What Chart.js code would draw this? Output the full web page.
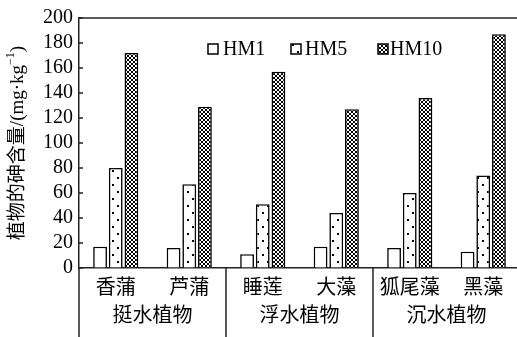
<!DOCTYPE html>
<html>
<head>
<meta charset="utf-8">
<script src="https://cdn.jsdelivr.net/npm/chart.js@4"></script>
<style>
  html, body { margin: 0; padding: 0; background: #fff; overflow: hidden; }
  #wrap { width: 517px; height: 337px; overflow: hidden; }
  canvas { display: block; }
</style>
</head>
<body>
<div id="wrap"><canvas id="c" width="522" height="337"></canvas></div>
<script>
// Plant species (x categories) and their life-form groups
const plants = ['香蒲', '芦蒲', '睡莲', '大藻', '狐尾藻', '黑藻'];
const groups = ['挺水植物', '浮水植物', '沉水植物'];
const groupSize = 2;

// Arsenic content in plants, mg/kg
const seriesNames = ['HM1', 'HM5', 'HM10'];
const hm1 = [17, 16, 11, 17, 16, 13];
const hm5 = [80, 67, 51, 44, 60, 74];
const hm10 = [172, 129, 157, 127, 136, 187];

const yTicks = [0, 20, 40, 60, 80, 100, 120, 140, 160, 180, 200];
const yTitle = '植物的砷含量/(mg·kg';
const yTitleSup = '−1';

const LATIN = '"Liberation Serif", "Times New Roman", serif';
const CJK = '"Liberation Serif", "Noto Sans CJK SC", serif';

// Fill patterns for the three series
function makePattern(kind) {
  const c = document.createElement('canvas');
  const g = c.getContext('2d');
  if (kind === 'dots') {
    c.width = 10; c.height = 14;
    g.fillStyle = '#fff'; g.fillRect(0, 0, 10, 14);
    g.fillStyle = '#000';
    g.fillRect(2, 2, 2, 2);
    g.fillRect(7, 9, 2, 2);
  } else if (kind === 'check') {
    // diagonal cross-hatch leaving small white diamonds
    c.width = 4; c.height = 4;
    g.fillStyle = '#fff'; g.fillRect(0, 0, 4, 4);
    g.fillStyle = '#000';
    [[0,0],[1,1],[2,2],[3,3],[3,0],[2,1],[1,2],[0,3]].forEach(p => g.fillRect(p[0], p[1], 1, 1));
  } else {
    c.width = 2; c.height = 2;
    g.fillStyle = '#fff'; g.fillRect(0, 0, 2, 2);
  }
  return g.createPattern(c, 'repeat');
}
const ctx0 = document.getElementById('c').getContext('2d');
const fills = [makePattern('plain'), makePattern('dots'), makePattern('check')];

const AXIS = '#222';

// Frame, inner ticks, group dividers and labels, y title, legend
const decor = {
  id: 'decor',
  afterDraw(chart) {
    const { ctx, chartArea: a, scales: { x, y } } = chart;
    const H = chart.height;
    ctx.save();
    ctx.strokeStyle = AXIS;
    ctx.lineWidth = 1.5;
    // top frame line
    ctx.beginPath();
    ctx.moveTo(a.left, a.top); ctx.lineTo(a.right + 2, a.top);
    ctx.stroke();
    // left axis continues down through the label area
    ctx.beginPath();
    ctx.moveTo(a.left, a.bottom); ctx.lineTo(a.left, H);
    ctx.stroke();
    // inner ticks
    yTicks.forEach(v => {
      const py = y.getPixelForValue(v);
      ctx.beginPath();
      ctx.moveTo(a.left, py); ctx.lineTo(a.left + 4, py);
      ctx.stroke();
    });
    // group dividers and group names
    ctx.fillStyle = '#000';
    ctx.font = '20px ' + CJK;
    ctx.textAlign = 'center';
    ctx.textBaseline = 'middle';
    groups.forEach((gname, i) => {
      const first = i * groupSize, last = first + groupSize - 1;
      const half = (x.getPixelForValue(1) - x.getPixelForValue(0)) / 2;
      const l = x.getPixelForValue(first) - half;
      const r = x.getPixelForValue(last) + half;
      if (i > 0) {
        ctx.beginPath();
        ctx.moveTo(l, a.bottom); ctx.lineTo(l, H);
        ctx.stroke();
      }
      ctx.fillText(gname, (l + r) / 2, 317);
    });
    // y axis title
    ctx.save();
    ctx.translate(18, (a.top + a.bottom) / 2);
    ctx.rotate(-Math.PI / 2);
    ctx.font = '19px ' + CJK;
    const w1 = ctx.measureText(yTitle).width;
    ctx.font = '12px ' + LATIN;
    const w2 = ctx.measureText(yTitleSup).width;
    ctx.font = '19px ' + CJK;
    const w3 = ctx.measureText(')').width;
    const total = w1 + w2 + w3;
    let cx = -total / 2;
    ctx.textAlign = 'left';
    ctx.fillText(yTitle, cx, 0);
    cx += w1;
    ctx.font = '12px ' + LATIN;
    ctx.fillText(yTitleSup, cx, -7);
    cx += w2;
    ctx.font = '19px ' + CJK;
    ctx.fillText(')', cx, 0);
    ctx.restore();
    // legend
    const items = [[208, 223], [291, 305], [378, 390]];
    ctx.font = '20px ' + LATIN;
    ctx.textAlign = 'left';
    ctx.textBaseline = 'middle';
    chart.data.datasets.forEach((ds, i) => {
      const [bx, tx] = items[i];
      ctx.fillStyle = ds.backgroundColor;
      ctx.fillRect(bx, 44, 10, 10);
      ctx.lineWidth = 1.5;
      ctx.strokeStyle = '#000';
      ctx.strokeRect(bx, 44, 10, 10);
      ctx.fillStyle = '#000';
      ctx.fillText(ds.label, tx, 50);
    });
    ctx.restore();
  }
};

new Chart(ctx0, {
  type: 'bar',
  data: {
    labels: plants,
    datasets: [hm1, hm5, hm10].map((d, i) => ({
      label: seriesNames[i],
      data: d,
      backgroundColor: fills[i],
      borderColor: '#000',
      borderWidth: 1.6,
      borderSkipped: 'start',
      categoryPercentage: 0.64,
      barPercentage: 0.88
    }))
  },
  options: {
    responsive: false,
    animation: false,
    devicePixelRatio: 1,
    layout: { padding: { top: 15, right: 2, left: 0, bottom: 0 } },
    plugins: { legend: { display: false }, tooltip: { enabled: false } },
    scales: {
      x: {
        grid: { drawOnChartArea: false, drawTicks: false },
        border: { display: true, color: AXIS, width: 1.5 },
        ticks: { color: '#000', font: { family: CJK, size: 20 }, padding: 9, maxRotation: 0, autoSkip: false },
        afterFit(s) { s.height = 69; }
      },
      y: {
        min: 0, max: 200,
        afterBuildTicks(s) { s.ticks = yTicks.map(v => ({ value: v })); },
        grid: { drawOnChartArea: false, drawTicks: false },
        border: { display: true, color: AXIS, width: 1.5 },
        ticks: { color: '#000', font: { family: LATIN, size: 20 }, padding: 6, autoSkip: false },
        afterFit(s) { s.width = 79; }
      }
    }
  },
  plugins: [decor]
});
</script>
</body>
</html>
